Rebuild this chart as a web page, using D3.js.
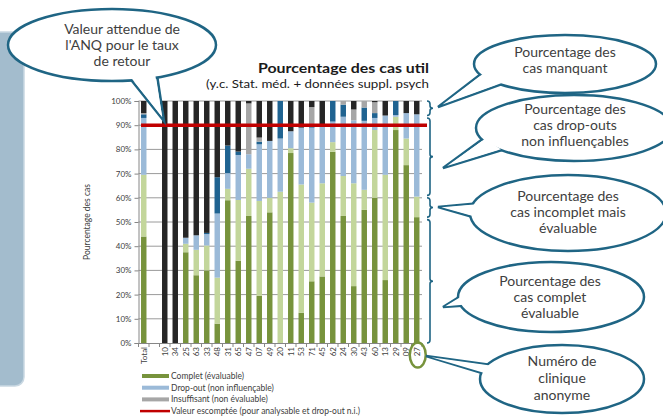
<!DOCTYPE html>
<html><head><meta charset="utf-8">
<script src="https://cdn.jsdelivr.net/npm/d3@7"></script>
<style>body{margin:0;background:#fff;} svg{display:block;font-family:Lato,'Open Sans',sans-serif;}</style>
</head><body><svg id="c" width="663" height="417"></svg>
<script>
const categories = ["Total"," ","10","34","25","63","33","48","31","65","47","07","49","20","11","53","71","45","62","24","30","43","60","13","29","09","27"];
const complet     = [44,0,0,0,37.5,28,30,8,59,34,52.5,19.5,54,0,78.5,12.5,25.5,27.5,79,52.5,23.5,55,60,26,88,73.5,52];
const incomplet   = [25.5,0,0,0,3.5,10.5,10.3,19,4.7,25.1,19.5,39.2,6,62.5,2,53,32.5,38.5,4,16.5,42.5,8.3,28,43.5,5.5,11,8.5];
const dropout     = [23.5,0,0,0,2.5,6,4.7,26.5,6.5,18.6,6,23.4,23.5,22,7,23.5,31,24.5,8.5,24.5,26,28.5,5,24.5,0.7,10.5,34];
const dropoutInfl = [1.5,0,0,0,0,0,0.5,15,11.4,1.4,0,1.1,0,15.5,0,0,0.5,0,8.5,5,0,5.5,2,0,5.8,0,0];
const insuffisant = [0.5,0,0,0,0,0,0,0,0,0,21,1.7,0,0,0,0,8,0,0,1.5,4.5,2.7,4.5,0,0,0,0];
const manquant    = [5,0,100,100,56.5,55.5,54.5,31.5,18.4,20.9,1,15.1,16.5,0,12.5,11,2.5,9.5,0,0,3.5,0,0.5,6,0,5,5.5];
const yTicks = [0,10,20,30,40,50,60,70,80,90,100];
const targetValue = 90;
const seriesKeys = ["complet","incomplet","dropout","dropoutInfl","insuffisant","manquant"];
const legendLabels = ["Complet (évaluable)","Drop-out (non influençable)","Insuffisant (non évaluable)","Valeur escomptée (pour analysable et drop-out n.i.)"];
const titleText = "Pourcentage des cas util";
const subtitleText = "(y.c. Stat. méd. + données suppl. psych";
const yTitle = "Pourcentage des cas";
const bracketRanges = [[94,100],[61,93],[52,60],[0,51]];

const colors = {complet:"#77933c", incomplet:"#c3d69b", dropout:"#9bbad8", dropoutInfl:"#1f6391", insuffisant:"#a6a6a6", manquant:"#262626"};
const teal = "#1f6584";
const txt = "#404040";

const rows = categories.map((c,i)=>({cat:c, complet:complet[i], incomplet:incomplet[i], dropout:dropout[i], dropoutInfl:dropoutInfl[i], insuffisant:insuffisant[i], manquant:manquant[i]}));
const svg = d3.select("#c");

// left decorative panel
svg.append("rect").attr("x",-12).attr("y",32).attr("width",36).attr("height",354).attr("rx",9)
  .attr("fill","#a3bccd").attr("stroke","#c9d8e2").attr("stroke-width",1.5);

const x = d3.scaleBand().domain(categories).range([138.5,422]).paddingInner(0.48).paddingOuter(0.24);
const y = d3.scaleLinear().domain([0,100]).range([343,101]);

// gridlines
svg.append("g").selectAll("line").data(yTicks.filter(t=>t>0)).join("line")
  .attr("x1",x.range()[0]).attr("x2",x.range()[1]).attr("y1",d=>y(d)).attr("y2",d=>y(d))
  .attr("stroke","#9a9a9a").attr("stroke-width",1);

// bars
const stack = d3.stack().keys(seriesKeys)(rows);
svg.append("g").selectAll("g").data(stack).join("g").attr("fill",d=>colors[d.key])
  .selectAll("rect").data(d=>d).join("rect")
  .attr("x",d=>x(d.data.cat)).attr("width",x.bandwidth())
  .attr("y",d=>y(d[1])).attr("height",d=>Math.max(0,y(d[0])-y(d[1])));

// y axis
const yAxis = svg.append("g").attr("transform",`translate(${x.range()[0]},0)`)
  .call(d3.axisLeft(y).tickValues(yTicks).tickFormat(d=>d+"%").tickSize(4).tickPadding(3));
yAxis.select(".domain").attr("stroke","#868686");
yAxis.selectAll(".tick line").attr("stroke","#868686");
yAxis.selectAll("text").attr("font-size",8).attr("fill",txt).attr("font-family","Lato");

// x axis
const xAxis = svg.append("g").attr("transform",`translate(0,${y(0)})`)
  .call(d3.axisBottom(x).tickSize(0).tickPadding(3));
xAxis.select(".domain").attr("stroke","#868686");
xAxis.selectAll("text").attr("font-size",8).attr("fill",txt).attr("font-family","Lato")
  .attr("text-anchor","end").attr("dy","0.35em")
  .attr("transform","rotate(-90)")
  .attr("x",-4).attr("y",0);
xAxis.selectAll(".tick").attr("transform",d=>`translate(${x(d)+x.bandwidth()/2},0)`);
// separator ticks
svg.append("g").selectAll("line").data(categories.concat(["__end"])).join("line")
  .attr("x1",(d,i)=>x.range()[0]+i*x.step()).attr("x2",(d,i)=>x.range()[0]+i*x.step())
  .attr("y1",y(0)).attr("y2",y(0)+4).attr("stroke","#868686");

// target line
svg.append("line").attr("x1",x(categories[0])).attr("x2",x.range()[1]+5)
  .attr("y1",y(targetValue)).attr("y2",y(targetValue)).attr("stroke","#c00000").attr("stroke-width",3.5);

// y title
svg.append("text").attr("transform",`translate(90,${y(50)}) rotate(-90)`).attr("text-anchor","middle")
  .attr("font-size",8.5).attr("fill",txt).text(yTitle);

// titles
svg.append("text").attr("x",258).attr("y",73).attr("font-size",14)
  .attr("font-weight","bold").attr("fill","#1a1a1a").attr("textLength",171).attr("lengthAdjust","spacingAndGlyphs").text(titleText);
svg.append("text").attr("x",206).attr("y",88).attr("font-size",11.5)
  .attr("fill","#1a1a1a").attr("textLength",223).attr("lengthAdjust","spacingAndGlyphs").text(subtitleText);

// legend
const lg = svg.append("g");
const lgColors = [colors.complet, colors.dropout, colors.insuffisant];
legendLabels.forEach((l,i)=>{
  const yy = 376 + i*11.7;
  if(i<3) lg.append("rect").attr("x",142).attr("y",yy-2).attr("width",27).attr("height",4).attr("fill",lgColors[i]);
  else lg.append("line").attr("x1",140).attr("x2",170).attr("y1",yy).attr("y2",yy).attr("stroke","#c00000").attr("stroke-width",2.5);
  lg.append("text").attr("x",171).attr("y",yy+3).attr("font-size",8.5).attr("fill",txt).text(l);
});

// brackets
const bx = 430;
bracketRanges.forEach(([a,b])=>{
  const y1 = y(b), y2 = y(a), ym = (y1+y2)/2;
  const p = `M${bx-3},${y1} Q${bx},${y1} ${bx},${y1+3} L${bx},${ym-2.5} Q${bx},${ym} ${bx+3},${ym} Q${bx},${ym} ${bx},${ym+2.5} L${bx},${y2-3} Q${bx},${y2} ${bx-3},${y2}`;
  svg.append("path").attr("d",p).attr("fill","none").attr("stroke",teal).attr("stroke-width",1.6);
});

// circle around clinic label
const lastCat = categories[categories.length-1];
svg.append("ellipse").attr("cx",x(lastCat)+x.bandwidth()/2+1).attr("cy",355).attr("rx",8).attr("ry",12.5)
  .attr("fill","none").attr("stroke","#77933c").attr("stroke-width",2.5);

// speech bubbles
const bubbles = [
  {cx:112,cy:45,rx:104,ry:36,tail:[[128,76],[157,75],[164,121]],lines:["Valeur attendue de","l'ANQ pour le taux","de retour"],ty:[34,50,66],tx:122},
  {cx:565,cy:64,rx:91,ry:29,tail:[[486,70],[502,84],[438,107]],lines:["Pourcentage des","cas manquant"],ty:[57,73],tx:565},
  {cx:574,cy:128,rx:98,ry:33,tail:[[484,138],[502,150],[443,168]],lines:["Pourcentage des","cas drop-outs","non influençables"],ty:[114,130,146],tx:575},
  {cx:568,cy:213,rx:98,ry:38,tail:[[480,203],[480,219],[438,207]],lines:["Pourcentage des","cas incomplet  mais","évaluable"],ty:[201,217,233],tx:568},
  {cx:551,cy:297,rx:93,ry:35,tail:[[472,289],[472,305],[443,307]],lines:["Pourcentage des","cas complet","évaluable"],ty:[286,302,318],tx:550},
  {cx:562,cy:379,rx:82,ry:34,tail:[[492,365],[492,376],[426,356]],lines:["Numéro de","clinique","anonyme"],ty:[366,383,400],tx:562}
];
bubbles.forEach(b=>{
  const g = svg.append("g");
  const tp = "M"+b.tail.map(p=>p.join(",")).join("L")+"Z";
  g.append("path").attr("d",tp).attr("fill","#fff").attr("stroke",teal).attr("stroke-width",2.5).attr("stroke-linejoin","miter");
  g.append("ellipse").attr("cx",b.cx).attr("cy",b.cy).attr("rx",b.rx).attr("ry",b.ry)
    .attr("fill","#fff").attr("stroke",teal).attr("stroke-width",2.5);
  const t=b.tail;
  const mx=(t[0][0]+t[1][0])/2, my=(t[0][1]+t[1][1])/2;
  const shrink = p=>[p[0]+(mx-p[0])*0.12, p[1]+(my-p[1])*0.12];
  const tipIn = [t[2][0]+(mx-t[2][0])*0.08, t[2][1]+(my-t[2][1])*0.08];
  g.append("path").attr("d","M"+[shrink(t[0]),shrink(t[1]),tipIn].map(p=>p.join(",")).join("L")+"Z").attr("fill","#fff");
  b.lines.forEach((l,i)=>g.append("text").attr("x",b.tx).attr("y",b.ty[i]).attr("text-anchor","middle")
    .attr("font-size",14).attr("fill",txt).text(l));
});
</script></body></html>
